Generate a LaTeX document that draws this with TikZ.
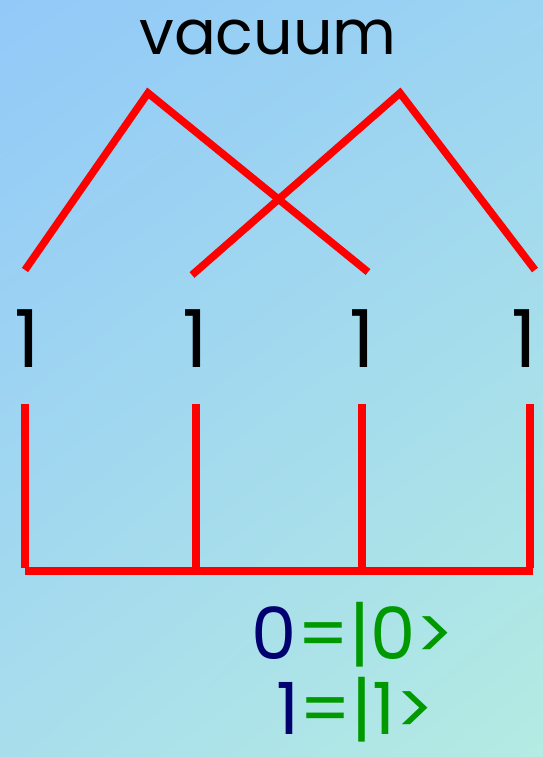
\documentclass[tikz,border=0pt]{standalone}
\usepackage{fontspec}
\setmainfont{Poppins}
\usetikzlibrary{shadings}
\definecolor{bgTL}{HTML}{92C9F8}
\definecolor{bgTR}{HTML}{9CD4F2}
\definecolor{bgBL}{HTML}{A8DEEC}
\definecolor{bgBR}{HTML}{B4EBE2}
\definecolor{navy}{HTML}{000070}
\definecolor{qgreen}{HTML}{009900}
\begin{document}
\begin{tikzpicture}[x=1pt,y=-1pt,
  redline/.style={draw=red,line width=7.5pt},
  bigtxt/.style={inner sep=0pt,font=\fontsize{62}{62}\selectfont},
  numtxt/.style={inner sep=0pt,font=\fontsize{80}{80}\selectfont},
  legtxt/.style={inner sep=0pt,text depth=0pt,font=\fontsize{72}{72}\selectfont}]
\useasboundingbox (0,0) rectangle (543,757);
\shade[upper left=bgTL,upper right=bgTR,lower left=bgBL,lower right=bgBR] (0,0) rectangle (543,757);
% title
\node[bigtxt,anchor=base] (vac) at (268,55) {vacuum};
% top crossing lines
\coordinate (p1) at (148,93);
\coordinate (p2) at (400,93);
\coordinate (a1) at (25,270);
\coordinate (a2) at (368,272);
\coordinate (b1) at (192,275);
\coordinate (b2) at (535,270);
\draw[redline] (a1) -- (p1) -- (a2);
\draw[redline] (b1) -- (p2) -- (b2);
% ones
\node[numtxt,anchor=base] (o1) at (27,367) {1};
\node[numtxt,anchor=base] (o2) at (195,367) {1};
\node[numtxt,anchor=base] (o3) at (362,367) {1};
\node[numtxt,anchor=base] (o4) at (524,367) {1};
% bottom comb
\coordinate (t1) at (25,404);
\coordinate (t2) at (196,404);
\coordinate (t3) at (362,404);
\coordinate (t4) at (530,404);
\coordinate (u1) at (25,568);
\coordinate (u2) at (196,568);
\coordinate (u3) at (362,568);
\coordinate (u4) at (530,568);
\coordinate (h1) at (25,571);
\coordinate (h2) at (533,571);
\draw[redline] (t1) -- (u1);
\draw[redline] (t2) -- (u2);
\draw[redline] (t3) -- (u3);
\draw[redline] (t4) -- (u4);
\draw[redline] (h1) -- (h2);
% legend
\node[legtxt,anchor=base] (l0) at (353,659) {\textcolor{navy}{0}\textcolor{qgreen}{=|0>}};
\node[legtxt,anchor=base] (l1) at (355,734) {\textcolor{navy}{1}\textcolor{qgreen}{=|1>}};
\end{tikzpicture}
\end{document}
